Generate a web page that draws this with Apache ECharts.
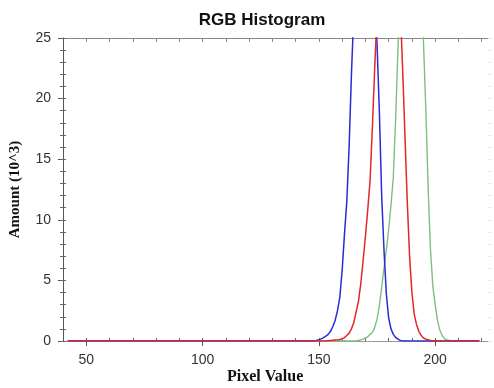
<!DOCTYPE html>
<html>
<head>
<meta charset="utf-8">
<script src="https://cdn.jsdelivr.net/npm/echarts@6/dist/echarts.min.js"></script>
<style>
  html, body { margin: 0; padding: 0; background: #fff; }
  #chart { width: 494px; height: 388px; }
</style>
</head>
<body>
<div id="chart"></div>
<script>
// pixel values (x), first and last entries are the flat ends of the histogram
const pixelValues = [42,
  146, 147, 148, 149, 150, 151, 152, 153, 154, 155, 156, 157, 158, 159, 160,
  161, 162, 163, 164, 165, 166, 167, 168, 169, 170, 171, 172, 173, 174, 175,
  176, 177, 178, 179, 180, 181, 182, 183, 184, 185, 186, 187, 188, 189, 190,
  191, 192, 193, 194, 195, 196, 197, 198, 199, 200, 201, 202, 203, 204, 205,
  206, 207, 208,
  219];

// amounts in 10^3 (peaks run off the top of the axis)
const redAmount = [0,
  0, 0, 0, 0, 0, 0, 0, 0, 0.02, 0.04, 0.06, 0.08, 0.1, 0.13, 0.18,
  0.28, 0.45, 0.65, 1.0, 1.5, 2.4, 3.25, 4.7, 6.6, 8.6, 10.8, 13.2, 17.6, 22.5, 27,
  33, 39, 44, 47, 48.5, 47, 43, 38, 32, 27.5, 22.5, 17, 11.5, 7, 4,
  2.2, 1.35, 0.8, 0.45, 0.25, 0.15, 0.1, 0.05, 0, 0, 0, 0, 0, 0, 0,
  0, 0, 0,
  0];
const greenAmount = [0,
  0, 0, 0, 0, 0, 0, 0, 0, 0, 0, 0, 0, 0, 0, 0,
  0, 0, 0, 0, 0, 0, 0.05, 0.1, 0.15, 0.25, 0.35, 0.55, 0.7, 1.1, 1.8,
  2.9, 4.4, 6.0, 7.5, 9.2, 11.2, 13.5, 18.3, 24, 30, 36, 41, 45, 47, 47,
  45, 41, 36, 30, 24.5, 19, 12.5, 7.5, 4.5, 3.0, 1.7, 0.9, 0.45, 0.2, 0.1,
  0.05, 0, 0,
  0];
const blueAmount = [0,
  0, 0, 0, 0.05, 0.1, 0.18, 0.28, 0.4, 0.55, 0.8, 1.2, 1.7, 2.5, 3.6, 5.8,
  8.8, 11.5, 16, 22, 27, 33, 39, 44, 48, 49, 47, 42, 36, 30, 24.5,
  19, 12, 7.5, 3.9, 1.9, 1.0, 0.55, 0.3, 0.15, 0.05, 0, 0, 0, 0, 0,
  0, 0, 0, 0, 0, 0, 0, 0, 0, 0, 0, 0, 0, 0, 0,
  0, 0, 0,
  0];

// axis ticks
const xLabelValues = [50, 100, 150, 200];
const xMinorValues = [50, 60, 70, 80, 90, 100, 110, 120, 130, 140, 150, 160, 170, 180, 190, 200, 210, 220];
const yMinorValues = [0, 1, 2, 3, 4, 5, 6, 7, 8, 9, 10, 11, 12, 13, 14, 15, 16, 17, 18, 19, 20, 21, 22, 23, 24, 25];

const pairs = (ys) => pixelValues.map((x, i) => [x, ys[i]]);

const chart = echarts.init(document.getElementById('chart'));

const labelStyle = { fontFamily: 'Liberation Sans', fontSize: 14, color: '#333' };
const nameFont = 'bold 16px "Liberation Serif"';

const option = {
  animation: false,
  title: {
    text: 'RGB Histogram',
    left: 257,
    textAlign: 'center',
    top: 7,
    textStyle: { fontFamily: 'Liberation Sans', fontSize: 17, fontWeight: 'bold', color: '#111' }
  },
  grid: { left: 62, right: 3, top: 38, bottom: 47 },
  xAxis: [
    {
      type: 'value', min: 40, max: 224, position: 'bottom',
      axisLine: { onZero: false, lineStyle: { color: '#999', width: 1 } },
      axisTick: { customValues: xLabelValues, length: 5, lineStyle: { color: '#555' } },
      axisLabel: { customValues: xLabelValues, margin: 12, ...labelStyle },
      splitLine: { show: false }
    },
    {
      type: 'value', min: 40, max: 224, position: 'bottom',
      axisLine: { show: false, onZero: false },
      axisTick: { customValues: xMinorValues, inside: true, length: 3, lineStyle: { color: '#666' } },
      axisLabel: { show: false },
      splitLine: { show: false }
    },
    {
      type: 'value', min: 40, max: 224, position: 'top',
      axisLine: { show: true, onZero: false, lineStyle: { color: '#888' } },
      axisTick: { customValues: xMinorValues, inside: true, length: 4, lineStyle: { color: '#888' } },
      axisLabel: { show: false },
      splitLine: { show: false }
    }
  ],
  yAxis: [
    {
      type: 'value', min: 0, max: 25, interval: 5, position: 'left',
      name: 'Amount (10^3)', nameLocation: 'middle', nameGap: 40,
      nameTextStyle: { fontFamily: 'Liberation Serif', fontWeight: 'bold', fontSize: 15, color: '#111' },
      axisLine: { show: true, onZero: false, lineStyle: { color: '#555' } },
      axisTick: { show: true, length: 5, lineStyle: { color: '#555' } },
      axisLabel: { margin: 12, ...labelStyle },
      splitLine: { show: false }
    },
    {
      type: 'value', min: 0, max: 25, position: 'left',
      axisLine: { show: false, onZero: false },
      axisTick: { show: true, customValues: yMinorValues, inside: true, length: 3, lineStyle: { color: '#666' } },
      axisLabel: { show: false },
      splitLine: { show: false }
    },
    {
      type: 'value', min: 0, max: 25, position: 'left',
      axisLine: { show: false, onZero: false },
      axisTick: { show: true, customValues: yMinorValues, length: 3, lineStyle: { color: '#666' } },
      axisLabel: { show: false },
      splitLine: { show: false }
    },
    {
      type: 'value', min: 0, max: 25, position: 'right',
      axisLine: { show: false, onZero: false },
      axisTick: { show: true, customValues: yMinorValues, inside: true, length: 3, lineStyle: { color: '#e6e6e6' } },
      axisLabel: { show: false },
      splitLine: { show: false }
    }
  ],
  graphic: [
    {
      type: 'text', left: 267 - 40, top: 369,
      style: { text: 'Pixel Value', font: nameFont, fill: '#111' }
    }
  ],
  series: [
    {
      name: 'Green', type: 'line', data: pairs(greenAmount), showSymbol: false, clip: true,
      lineStyle: { color: '#7dbf7d', width: 1.4 }
    },
    {
      name: 'Blue', type: 'line', data: pairs(blueAmount), showSymbol: false, clip: true,
      lineStyle: { color: '#2a2ad6', width: 1.5 }
    },
    {
      name: 'Red', type: 'line', data: pairs(redAmount), showSymbol: false, clip: true,
      lineStyle: { color: '#e32626', width: 1.5 }
    }
  ]
};

chart.setOption(option);
</script>
</body>
</html>
